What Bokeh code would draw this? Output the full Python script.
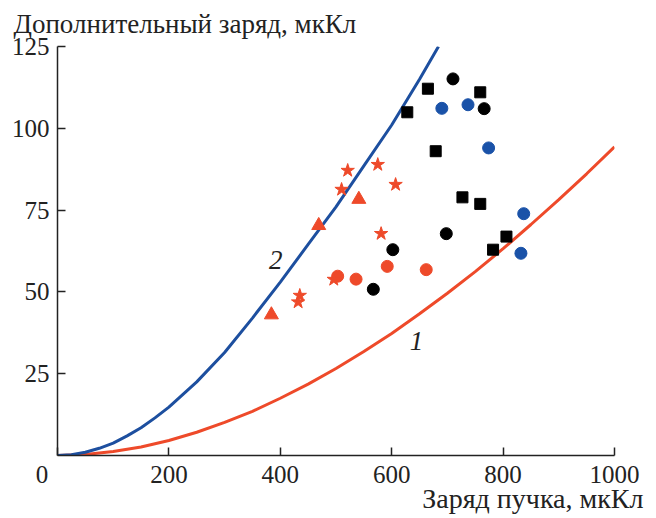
from bokeh.plotting import figure
from bokeh.models import Range1d, Label, FixedTicker, Title
from bokeh.embed import file_html
from bokeh.resources import INLINE

# curve 1 (red) and curve 2 (blue)
curve1_x = [0, 50, 100, 150, 200, 250, 300, 350, 400, 450, 500, 550, 600, 650, 700, 750, 800, 850, 900, 950, 1000]
curve1_y = [0, 0.3, 1.2, 2.6, 4.6, 7.1, 10.1, 13.5, 17.5, 21.8, 26.6, 31.8, 37.3, 43.3, 49.6, 56.2, 63.2, 70.6, 78.2, 86.1, 94.3]
curve2_x = [0, 25, 50, 75, 100, 125, 150, 175, 200, 250, 300, 350, 400, 450, 500, 550, 600, 650, 684]
curve2_y = [0, 0.25, 1.0, 2.2, 3.8, 6.0, 8.5, 11.5, 14.8, 22.5, 31.5, 42.0, 53.0, 64.5, 76.0, 88.5, 101.0, 115.0, 125.0]

black_circle_x = [710, 766, 698, 602, 567]
black_circle_y = [115.1, 106.0, 67.8, 62.9, 50.8]
black_square_x = [665, 759, 628, 679, 727, 759, 806, 782]
black_square_y = [112.1, 111.0, 104.9, 93.0, 78.9, 76.9, 66.9, 62.9]
blue_circle_x = [690, 737, 774, 837, 832]
blue_circle_y = [106.1, 107.2, 94.0, 73.9, 61.8]
red_circle_x = [592, 662, 503, 536]
red_circle_y = [57.8, 56.8, 54.8, 53.9]
red_star_x = [521, 510, 575, 607, 581, 496, 435, 432]
red_star_y = [87.1, 81.3, 88.9, 82.8, 67.8, 53.8, 48.9, 46.9]
red_triangle_x = [384, 469, 541]
red_triangle_y = [43.0, 70.3, 78.3]

x_ticks = [0, 200, 400, 600, 800, 1000]
y_ticks = [25, 50, 75, 100, 125]

RED = "#ee4a2a"
BLUE = "#1d4f9f"
BLUE_PT = "#1a52a8"
FONT = "Liberation Serif"
INK = "#222222"

p = figure(width=650, height=516, output_backend="svg", toolbar_location=None,
           x_range=Range1d(0, 1000), y_range=Range1d(0, 125),
           min_border_left=57, min_border_right=36, min_border_top=46, min_border_bottom=61)
p.outline_line_color = None
p.xgrid.visible = False
p.ygrid.visible = False

for ax in (p.xaxis, p.yaxis):
    ax.axis_line_color = INK
    ax.axis_line_width = 1.5
    ax.major_tick_line_color = INK
    ax.major_tick_line_width = 1.5
    ax.major_tick_in = 8
    ax.major_tick_out = 0
    ax.minor_tick_line_color = None
    ax.major_label_text_font = FONT
    ax.major_label_text_font_size = "25px"
    ax.major_label_text_color = INK

p.xaxis.ticker = FixedTicker(ticks=x_ticks)
p.yaxis.ticker = FixedTicker(ticks=y_ticks)
p.xaxis.major_label_overrides = {0: "0\u00a0\u00a0\u00a0\u00a0\u00a0"}
p.xaxis.major_label_standoff = 5
p.yaxis.major_label_standoff = 8

p.line(curve1_x, curve1_y, line_color=RED, line_width=3)
p.line(curve2_x, curve2_y, line_color=BLUE, line_width=3)

p.scatter(black_square_x, black_square_y, marker="square", size=11, color="black")
p.scatter(black_circle_x, black_circle_y, marker="circle", size=12, color="black")
p.scatter(blue_circle_x, blue_circle_y, marker="circle", size=12, color=BLUE_PT)
p.scatter(red_circle_x, red_circle_y, marker="circle", size=12, color=RED)
p.scatter(red_star_x, red_star_y, marker="star", size=14, color=RED)
p.scatter(red_triangle_x, red_triangle_y, marker="triangle", size=14, color=RED)

p.add_layout(Label(x=391.7, y=59.6, text="2", text_font=FONT, text_font_style="italic",
                   text_font_size="27px", text_align="center", text_baseline="middle", text_color=INK))
p.add_layout(Label(x=644.7, y=35.1, text="1", text_font=FONT, text_font_style="italic",
                   text_font_size="27px", text_align="center", text_baseline="middle", text_color=INK))

p.add_layout(Title(text="Дополнительный заряд, мкКл", align="left", offset=-44, standoff=12,
                   vertical_align="top",
                   text_font=FONT, text_font_size="27px", text_font_style="normal", text_color=INK), "above")
p.add_layout(Title(text="Заряд пучка, мкКл", align="right", offset=-29, standoff=-16,
                   vertical_align="top",
                   text_font=FONT, text_font_size="28px", text_font_style="normal", text_color=INK), "below")

open("out.html", "w").write(file_html(p, INLINE))
